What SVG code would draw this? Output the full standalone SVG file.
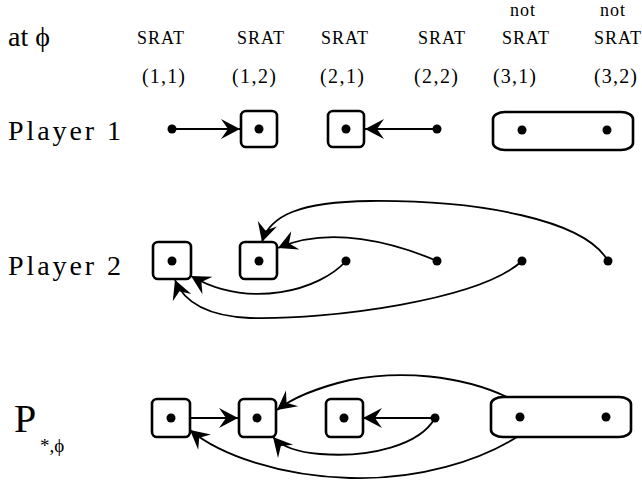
<svg xmlns="http://www.w3.org/2000/svg" width="642" height="482" viewBox="0 0 642 482">
<style>
text{font-family:"Liberation Serif","Times New Roman",serif;fill:#000}
.hdr{font-size:18px}
.crd{font-size:20px}
.lbl{font-size:28px}
.box{fill:#fff;stroke:#000;stroke-width:2.6}
.dot{fill:#000}
.edge{fill:none;stroke:#000;stroke-width:1.8;marker-end:url(#ah)}
</style>
<defs>
<marker id="ah" markerUnits="userSpaceOnUse" viewBox="-20 -11 21 22" refX="0" refY="0" markerWidth="21" markerHeight="22" orient="auto">
<path d="M0,0 L-19,-10 L-12,0 L-19,10 Z" fill="#000"/>
</marker>
</defs>
<g id="header">
<text class="lbl" x="8" y="46" textLength="42" lengthAdjust="spacing">at ϕ</text>
<text class="hdr" x="137" y="44" textLength="47" lengthAdjust="spacing">SRAT</text>
<text class="hdr" x="237" y="44" textLength="47" lengthAdjust="spacing">SRAT</text>
<text class="hdr" x="321" y="44" textLength="47" lengthAdjust="spacing">SRAT</text>
<text class="hdr" x="418" y="44" textLength="47" lengthAdjust="spacing">SRAT</text>
<text class="hdr" x="510" y="16" textLength="25" lengthAdjust="spacing">not</text>
<text class="hdr" x="502" y="44" textLength="47" lengthAdjust="spacing">SRAT</text>
<text class="hdr" x="600" y="16" textLength="25" lengthAdjust="spacing">not</text>
<text class="hdr" x="594" y="44" textLength="47" lengthAdjust="spacing">SRAT</text>
<text class="crd" x="142" y="83" textLength="43" lengthAdjust="spacing">(1,1)</text>
<text class="crd" x="232" y="83" textLength="44" lengthAdjust="spacing">(1,2)</text>
<text class="crd" x="320" y="83" textLength="44" lengthAdjust="spacing">(2,1)</text>
<text class="crd" x="414" y="83" textLength="44" lengthAdjust="spacing">(2,2)</text>
<text class="crd" x="493" y="83" textLength="43" lengthAdjust="spacing">(3,1)</text>
<text class="crd" x="594" y="83" textLength="43" lengthAdjust="spacing">(3,2)</text>
</g>
<g id="row-labels">
<text class="lbl" x="8" y="140" textLength="113" lengthAdjust="spacing">Player 1</text>
<text class="lbl" x="8" y="275" textLength="113" lengthAdjust="spacing">Player 2</text>
<text x="14" y="432" style="font-size:40px">P</text>
<text x="40" y="452" style="font-size:19px">*,ϕ</text>
</g>
<g id="connectors">
<path class="edge" d="M172,129 L240,129"/>
<path class="edge" d="M437,129 L365,129"/>
<path class="edge" d="M437,261 C395,243 330,225 278,248"/>
<path class="edge" d="M608,261 C585,220 480,200 370,201 C300,202 270,215 262,242"/>
<path class="edge" d="M346,261 C320,290 250,310 191,276"/>
<path class="edge" d="M522,261 C480,300 330,320 250,318 C205,316 183,300 175,280"/>
<path class="edge" d="M190,418 L238,418"/>
<path class="edge" d="M435,418 L363,418"/>
<path class="edge" d="M507,397 C460,375 400,370 350,380 C315,388 290,400 277,410"/>
<path class="edge" d="M435,418 C420,445 370,458 320,454 C295,452 280,445 273,437"/>
<path class="edge" d="M517,437 C480,460 420,480 350,478 C280,476 220,455 190,430"/>
</g>
<g id="p1-11"><circle class="dot" cx="172" cy="129" r="4.5"/></g>
<g id="p1-12"><rect class="box" x="241" y="111" width="36" height="36" rx="5"/><circle class="dot" cx="259" cy="129" r="4.5"/></g>
<g id="p1-21"><rect class="box" x="328" y="111" width="36" height="36" rx="5"/><circle class="dot" cx="346" cy="129" r="4.5"/></g>
<g id="p1-22"><circle class="dot" cx="437" cy="129" r="4.5"/></g>
<g id="p1-3x"><rect class="box" x="493" y="112" width="140" height="38" rx="12" ry="7"/><circle class="dot" cx="522" cy="130" r="4.5"/><circle class="dot" cx="607" cy="130" r="4.5"/></g>
<g id="p2-11"><rect class="box" x="153" y="242" width="38" height="37" rx="5"/><circle class="dot" cx="172" cy="261" r="4.5"/></g>
<g id="p2-12"><rect class="box" x="240" y="242" width="37" height="37" rx="5"/><circle class="dot" cx="259" cy="261" r="4.5"/></g>
<g id="p2-21"><circle class="dot" cx="346" cy="261" r="4.5"/></g>
<g id="p2-22"><circle class="dot" cx="437" cy="261" r="4.5"/></g>
<g id="p2-31"><circle class="dot" cx="522" cy="261" r="4.5"/></g>
<g id="p2-32"><circle class="dot" cx="608" cy="261" r="4.5"/></g>
<g id="ps-11"><rect class="box" x="152" y="399" width="38" height="38" rx="5"/><circle class="dot" cx="171" cy="418" r="4.5"/></g>
<g id="ps-12"><rect class="box" x="239" y="399" width="37" height="38" rx="5"/><circle class="dot" cx="257" cy="418" r="4.5"/></g>
<g id="ps-21"><rect class="box" x="326" y="399" width="37" height="38" rx="5"/><circle class="dot" cx="344" cy="418" r="4.5"/></g>
<g id="ps-22"><circle class="dot" cx="435" cy="418" r="4.5"/></g>
<g id="ps-3x"><rect class="box" x="491" y="397" width="140" height="40" rx="12" ry="7"/><circle class="dot" cx="520" cy="417" r="4.5"/><circle class="dot" cx="606" cy="417" r="4.5"/></g>
</svg>
